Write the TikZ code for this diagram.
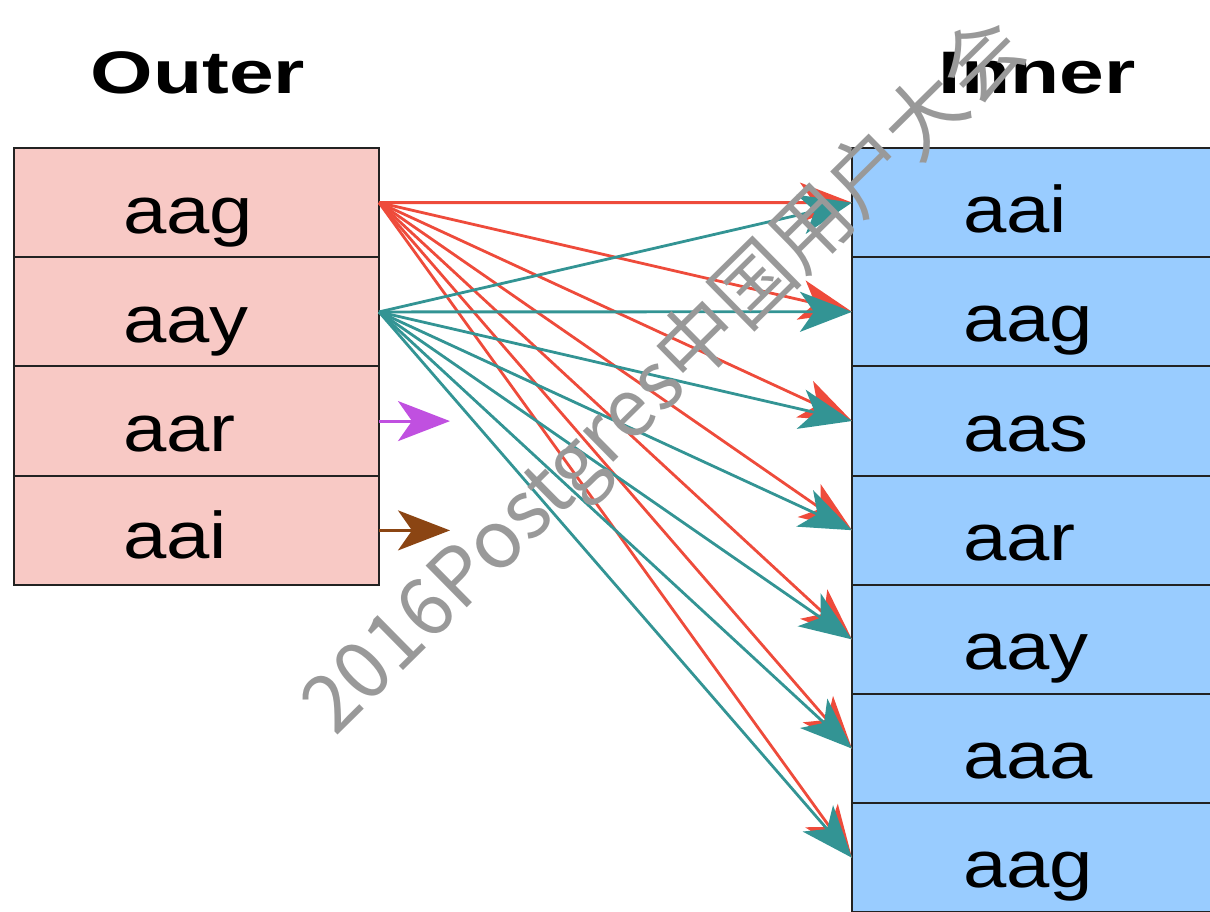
\documentclass[tikz,border=0pt]{standalone}
\usepackage{fontspec}
\setmainfont{Liberation Sans}
\newfontfamily\cellfont[FakeStretch=1.18]{Liberation Sans}
\newfontfamily\titlefont[FakeStretch=1.34]{Liberation Sans}
\newfontfamily\wmfont{Noto Sans CJK SC}
\usetikzlibrary{arrows.meta}

\definecolor{outerfill}{HTML}{F8C9C5}
\definecolor{innerfill}{HTML}{99CCFF}
\definecolor{cellline}{HTML}{222222}
\definecolor{redline}{HTML}{EE4B3B}
\definecolor{tealline}{HTML}{339494}
\definecolor{purpleline}{HTML}{C050E0}
\definecolor{brownline}{HTML}{8B4513}

\tikzset{
  ocell/.style={draw=cellline, line width=2pt, fill=outerfill, rectangle,
    minimum width=365pt, minimum height=109.25pt, inner sep=0pt, outer sep=0pt},
  icell/.style={draw=cellline, line width=2pt, fill=innerfill, rectangle,
    minimum width=400pt, minimum height=109.2pt, inner sep=0pt, outer sep=0pt},
  celltext/.style={anchor=base west, inner sep=0pt, font=\cellfont\fontsize{66}{66}\selectfont},
  titletext/.style={anchor=base, inner sep=0pt, font=\titlefont\bfseries\fontsize{60}{60}\selectfont},
  link/.style={line width=2.8pt, -{Stealth[length=52pt, width=40pt, inset=14pt]}},
  redlink/.style={link, draw=redline, fill=redline},
  teallink/.style={link, draw=tealline, fill=tealline},
}

\begin{document}
\begin{tikzpicture}[x=1pt, y=-1pt]
  \useasboundingbox (0,0) rectangle (1210,911);
  \clip (0,0) rectangle (1210,911);

  % headings
  \node[titletext] (outerhead) at (198,93) {Outer};
  \node[titletext] (innerhead) at (1037,93) {Inner};

  % outer relation
  \node[ocell] (o1) at (196.5,202.6) {};
  \node[ocell] (o2) at (196.5,311.9) {};
  \node[ocell] (o3) at (196.5,421.1) {};
  \node[ocell] (o4) at (196.5,530.4) {};
  \node[celltext] (o1t) at (123,233) {aag};
  \node[celltext] (o2t) at (123,342) {aay};
  \node[celltext] (o3t) at (123,451) {aar};
  \node[celltext] (o4t) at (123,558) {aai};

  % inner relation
  \foreach \k in {1,...,7} {
    \node[icell] (i\k) at (1052,{148+109.2*(\k-0.5)}) {};
  }
  \node[celltext] (i1t) at (963,232) {aai};
  \node[celltext] (i2t) at (963,341) {aag};
  \node[celltext] (i3t) at (963,451) {aas};
  \node[celltext] (i4t) at (963,560) {aar};
  \node[celltext] (i5t) at (963,669) {aay};
  \node[celltext] (i6t) at (963,778) {aaa};
  \node[celltext] (i7t) at (963,887) {aag};

  % aag probes every inner row
  \foreach \k in {1,...,7} {
    \draw[redlink] (o1.east) -- (i\k.west);
  }
  % aay probes every inner row
  \foreach \k in {1,...,7} {
    \draw[teallink] (o2.east) -- (i\k.west);
  }

  % remaining outer rows
  \coordinate (p3) at (450,421.1);
  \coordinate (p4) at (450,530.4);
  \draw[link, draw=purpleline, fill=purpleline] (o3.east) -- (p3);
  \draw[link, draw=brownline, fill=brownline] (o4.east) -- (p4);

  % watermark
  \node[rotate=44.6, inner sep=0pt, text=black!40, font=\wmfont\fontsize{80}{80}\selectfont]
    (wm) at (666,378) {2016Postgres中国用户大会};
\end{tikzpicture}
\end{document}
